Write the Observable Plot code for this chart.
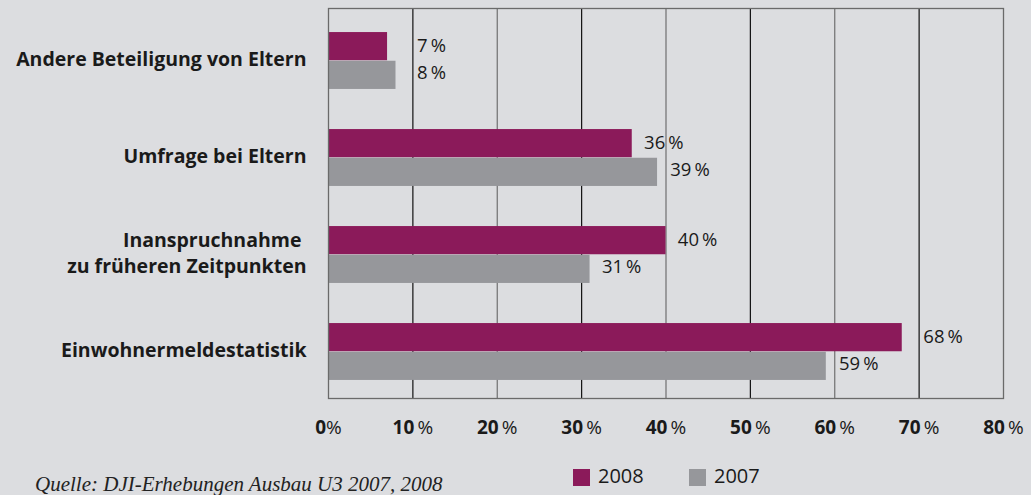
<!DOCTYPE html>
<html>
<head>
<meta charset="utf-8">
<script src="https://cdn.jsdelivr.net/npm/d3@7"></script>
<script src="https://cdn.jsdelivr.net/npm/@observablehq/plot@0.6"></script>
<style>
  html, body { margin: 0; padding: 0; background: #dcdde0; }
  #wrap { position: relative; width: 1031px; height: 495px; overflow: hidden; background: #dcdde0; }
  #caption { position: absolute; left: 35px; top: 474px; font: italic 21px "Liberation Serif", serif; line-height: 20px; color: #222; white-space: nowrap; }
  .leg { position: absolute; top: 465px; font: 20px "Open Sans", sans-serif; line-height: 22px; color: #1a1a1a; white-space: nowrap; }
  .sw { position: absolute; width: 17px; height: 17px; }
</style>
</head>
<body>
<div id="wrap"></div>
<script>
const categories = ["Andere Beteiligung von Eltern", "Umfrage bei Eltern", "Inanspruchnahme\u00a0\nzu früheren Zeitpunkten", "Einwohnermeldestatistik"];
const values2008 = [7, 36, 40, 68];
const values2007 = [8, 39, 31, 59];
const xTicks = [0, 10, 20, 30, 40, 50, 60, 70, 80];
const seriesNames = ["2008", "2007"];
const seriesColors = ["#8b1a5a", "#96979b"];
const caption = "Quelle: DJI-Erhebungen Ausbau U3 2007, 2008";

const rows2008 = categories.map((c, i) => ({cat: c, value: values2008[i]}));
const rows2007 = categories.map((c, i) => ({cat: c, value: values2007[i]}));

const pct = v => `${v}\u2009%`;
// label position: just past the bar, or past a nearby gridline
const labelX = d => {
  const g = Math.ceil(d.value / 10) * 10;
  return (g - d.value > 0 && g - d.value <= 3) ? g + 0.5 : d.value + 1.4;
};

const band = 97.5, barH = 28.7, shift = 3;

const plot = Plot.plot({
  width: 1031,
  height: 450,
  marginLeft: 328,
  marginRight: 28,
  marginTop: 8,
  marginBottom: 52,
  style: {background: "transparent", fontFamily: "Open Sans, sans-serif"},
  x: {domain: [0, 80], label: null},
  y: {domain: categories, padding: 0, label: null},
  marks: [
    Plot.ruleX(xTicks.filter(t => t % 20 === 10), {stroke: "#111", strokeWidth: 1.2}),
    Plot.ruleX(xTicks.filter(t => t % 20 === 0 && t > 0 && t < 80), {stroke: "#6f6f6f", strokeWidth: 1.2}),
    Plot.barX(rows2008, {x: "value", y: "cat", fill: seriesColors[0],
      insetTop: band / 2 - barH + shift, insetBottom: band / 2 - shift}),
    Plot.barX(rows2007, {x: "value", y: "cat", fill: seriesColors[1],
      insetTop: band / 2 + shift, insetBottom: band / 2 - barH - shift}),
    Plot.text(rows2008, {x: labelX, y: "cat", text: d => pct(d.value), textAnchor: "start",
      dy: -12, fontSize: 18.5, fill: "#1a1a1a"}),
    Plot.text(rows2007, {x: labelX, y: "cat", text: d => pct(d.value), textAnchor: "start",
      dy: 15, fontSize: 18.5, fill: "#1a1a1a"}),
    Plot.frame({stroke: "#6a6a6a", strokeWidth: 1.3}),
    Plot.axisY({tickSize: 0, tickPadding: 22, fontSize: 19.5, fontWeight: "bold", fill: "#1a1a1a", lineHeight: 1.3}),
    Plot.axisX(xTicks, {tickSize: 0, tickPadding: 22, fontSize: 19, fill: "#1a1a1a", label: null,
      tickFormat: d => d === 0 ? "0%" : `${d} %`})
  ]
});

// bold numbers with lighter percent sign in the x tick labels
d3.select(plot).selectAll("g[aria-label='x-axis tick label'] text").each(function() {
  const t = this.textContent;
  const m = t.match(/^(\d+)(.*)$/);
  if (!m) return;
  const sel = d3.select(this);
  sel.text(null);
  sel.append("tspan").attr("font-weight", "bold").text(m[1]);
  sel.append("tspan").attr("font-weight", "normal").text(m[2].replace(" ", "\u2009"));
});

const wrap = document.getElementById("wrap");
wrap.appendChild(plot);

const cap = document.createElement("div");
cap.id = "caption";
cap.textContent = caption;
wrap.appendChild(cap);

const legPos = [573, 689];
seriesNames.forEach((name, i) => {
  const sw = document.createElement("div");
  sw.className = "sw";
  sw.style.left = legPos[i] + "px";
  sw.style.top = "469px";
  sw.style.background = seriesColors[i];
  wrap.appendChild(sw);
  const tx = document.createElement("div");
  tx.className = "leg";
  tx.style.left = (legPos[i] + 25) + "px";
  tx.textContent = name;
  wrap.appendChild(tx);
});
</script>
</body>
</html>
